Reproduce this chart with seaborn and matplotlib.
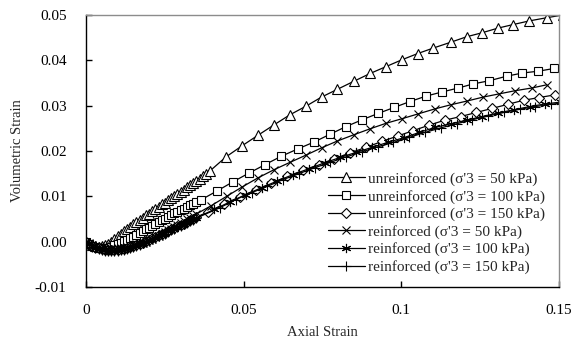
import matplotlib
matplotlib.use("Agg")
import matplotlib.pyplot as plt
import seaborn as sns
from matplotlib.lines import Line2D
from matplotlib.ticker import FixedLocator, FuncFormatter

sns.set_style("white")
plt.rcParams["font.family"] = ["Liberation Serif", "DejaVu Serif"]

# Axial strain of the closely spaced early readings (shared by all tests)
strain_early = [0.000, 0.001, 0.002, 0.003, 0.004, 0.005, 0.006, 0.007, 0.008,
                0.009, 0.010, 0.011, 0.012, 0.013, 0.014, 0.015, 0.016, 0.017,
                0.018, 0.019, 0.020, 0.021, 0.022, 0.023, 0.024, 0.025, 0.026,
                0.027, 0.028, 0.029, 0.030, 0.031, 0.032, 0.033, 0.034, 0.035]

# Unreinforced, sigma'3 = 50 kPa
u50_early = [0.0, -0.0004, -0.0008, -0.0010, -0.0011, -0.0010, -0.0008, -0.0005,
             -0.0001, 0.0005, 0.0012, 0.0017, 0.0023, 0.0028, 0.0033, 0.0038,
             0.0043, 0.0048, 0.0053, 0.0058, 0.0062, 0.0067, 0.0072, 0.0077,
             0.0082, 0.0086, 0.0091, 0.0096, 0.0101, 0.0105, 0.0110, 0.0115,
             0.0120, 0.0124, 0.0129, 0.0134]
u50_strain = [0.0360, 0.0370, 0.0380, 0.0393, 0.0444, 0.0496, 0.0546, 0.0597,
              0.0647, 0.0698, 0.0747, 0.0797, 0.0850, 0.0901, 0.0951, 0.1001,
              0.1052, 0.1101, 0.1157, 0.1207, 0.1257, 0.1306, 0.1355, 0.1406,
              0.1461, 0.1512]
u50_vol = [0.0139, 0.0144, 0.0149, 0.0156, 0.0187, 0.0212, 0.0235, 0.0258,
           0.0280, 0.0299, 0.0319, 0.0336, 0.0354, 0.0371, 0.0386, 0.0401,
           0.0415, 0.0427, 0.0440, 0.0452, 0.0461, 0.0471, 0.0479, 0.0487,
           0.0494, 0.0500]

# Unreinforced, sigma'3 = 100 kPa
u100_early = [0.0, -0.0005, -0.0009, -0.0011, -0.0013, -0.0014, -0.0014, -0.0013,
              -0.0011, -0.0008, -0.0005, -0.0002, 0.0001, 0.0004, 0.0008, 0.0011,
              0.0015, 0.0019, 0.0023, 0.0027, 0.0031, 0.0035, 0.0039, 0.0043,
              0.0047, 0.0051, 0.0055, 0.0059, 0.0063, 0.0066, 0.0070, 0.0073,
              0.0077, 0.0080, 0.0084, 0.0087]
u100_strain = [0.0364, 0.0416, 0.0466, 0.0516, 0.0568, 0.0618, 0.0673, 0.0724,
               0.0774, 0.0825, 0.0876, 0.0927, 0.0977, 0.1027, 0.1078, 0.1128,
               0.1181, 0.1228, 0.1279, 0.1334, 0.1384, 0.1434, 0.1484]
u100_vol = [0.0092, 0.0112, 0.0132, 0.0151, 0.0170, 0.0188, 0.0205, 0.0220,
            0.0237, 0.0254, 0.0269, 0.0283, 0.0296, 0.0309, 0.0321, 0.0330,
            0.0339, 0.0348, 0.0355, 0.0365, 0.0372, 0.0376, 0.0382]

# Unreinforced, sigma'3 = 150 kPa
u150_early = [0.0, -0.0005, -0.0009, -0.0012, -0.0015, -0.0017, -0.0018, -0.0019,
              -0.0019, -0.0019, -0.0018, -0.0017, -0.0016, -0.0014, -0.0012, -0.0010,
              -0.0007, -0.0005, -0.0002, 0.0001, 0.0004, 0.0007, 0.0010, 0.0014,
              0.0017, 0.0020, 0.0024, 0.0027, 0.0030, 0.0034, 0.0037, 0.0040,
              0.0044, 0.0047, 0.0050, 0.0054]
u150_strain = [0.0388, 0.0438, 0.0488, 0.0538, 0.0588, 0.0638, 0.0688, 0.0738,
               0.0788, 0.0838, 0.0888, 0.0938, 0.0988, 0.1038, 0.1088, 0.1138,
               0.1188, 0.1238, 0.1288, 0.1338, 0.1388, 0.1438, 0.1488, 0.1538]
u150_vol = [0.0066, 0.0083, 0.0099, 0.0114, 0.0129, 0.0144, 0.0157, 0.0170,
            0.0183, 0.0196, 0.0208, 0.0221, 0.0233, 0.0245, 0.0257, 0.0268,
            0.0276, 0.0285, 0.0294, 0.0303, 0.0312, 0.0318, 0.0324, 0.0329]

# Reinforced, sigma'3 = 50 kPa
r50_early = [0.0, -0.0004, -0.0008, -0.0010, -0.0012, -0.0014, -0.0015, -0.0016,
             -0.0016, -0.0016, -0.0015, -0.0014, -0.0013, -0.0012, -0.0010, -0.0008,
             -0.0006, -0.0004, -0.0002, 0.0000, 0.0003, 0.0006, 0.0010, 0.0013,
             0.0017, 0.0021, 0.0025, 0.0029, 0.0033, 0.0037, 0.0041, 0.0045,
             0.0049, 0.0053, 0.0057, 0.0061]
r50_strain = [0.0396, 0.0446, 0.0496, 0.0546, 0.0597, 0.0647, 0.0698, 0.0747,
              0.0797, 0.0850, 0.0901, 0.0951, 0.1001, 0.1054, 0.1107, 0.1157,
              0.1207, 0.1260, 0.1310, 0.1361, 0.1414, 0.1461]
r50_vol = [0.0079, 0.0100, 0.0121, 0.0141, 0.0159, 0.0175, 0.0191, 0.0207,
           0.0222, 0.0236, 0.0249, 0.0261, 0.0271, 0.0282, 0.0293, 0.0302,
           0.0310, 0.0319, 0.0326, 0.0333, 0.0339, 0.0346]

# Reinforced, sigma'3 = 100 kPa
r100_early = [0.0, -0.0005, -0.0010, -0.0013, -0.0016, -0.0018, -0.0019, -0.0020,
              -0.0020, -0.0020, -0.0019, -0.0018, -0.0017, -0.0015, -0.0013, -0.0011,
              -0.0008, -0.0006, -0.0003, 0.0000, 0.0003, 0.0006, 0.0009, 0.0013,
              0.0016, 0.0019, 0.0023, 0.0026, 0.0029, 0.0033, 0.0036, 0.0039,
              0.0043, 0.0046, 0.0049, 0.0053]
r100_strain = [0.0407, 0.0457, 0.0507, 0.0557, 0.0607, 0.0657, 0.0707, 0.0757,
               0.0807, 0.0857, 0.0907, 0.0957, 0.1007, 0.1057, 0.1107, 0.1157,
               0.1207, 0.1257, 0.1307, 0.1357, 0.1407, 0.1457, 0.1507]
r100_vol = [0.0071, 0.0088, 0.0104, 0.0119, 0.0134, 0.0148, 0.0161, 0.0174,
            0.0186, 0.0197, 0.0208, 0.0219, 0.0229, 0.0241, 0.0252, 0.0260,
            0.0268, 0.0276, 0.0284, 0.0291, 0.0298, 0.0304, 0.0308]

# Reinforced, sigma'3 = 150 kPa
r150_early = [0.0, -0.0006, -0.0011, -0.0014, -0.0017, -0.0019, -0.0020, -0.0021,
              -0.0021, -0.0021, -0.0020, -0.0019, -0.0018, -0.0016, -0.0014, -0.0012,
              -0.0009, -0.0007, -0.0004, -0.0001, 0.0002, 0.0005, 0.0008, 0.0012,
              0.0015, 0.0018, 0.0022, 0.0025, 0.0028, 0.0032, 0.0035, 0.0038,
              0.0042, 0.0045, 0.0048, 0.0052]
r150_strain = [0.0425, 0.0475, 0.0525, 0.0575, 0.0625, 0.0675, 0.0725, 0.0775,
               0.0825, 0.0875, 0.0925, 0.0975, 0.1025, 0.1075, 0.1125, 0.1175,
               0.1225, 0.1275, 0.1325, 0.1375, 0.1425, 0.1475, 0.1525]
r150_vol = [0.0075, 0.0093, 0.0108, 0.0122, 0.0137, 0.0150, 0.0163, 0.0175,
            0.0187, 0.0198, 0.0209, 0.0219, 0.0230, 0.0241, 0.0251, 0.0260,
            0.0269, 0.0277, 0.0285, 0.0292, 0.0298, 0.0303, 0.0307]

labels = ["unreinforced (σ'3 = 50 kPa)", "unreinforced (σ'3 = 100 kPa)",
          "unreinforced (σ'3 = 150 kPa)", "reinforced (σ'3 = 50 kPa)",
          "reinforced (σ'3 = 100 kPa)", "reinforced (σ'3 = 150 kPa)"]
x_ticks = [0, 0.05, 0.1, 0.15]
x_tick_labels = ["0", "0.05", "0.1", "0.15"]
y_ticks = [-0.01, 0.0, 0.01, 0.02, 0.03, 0.04, 0.05]

series = [
    (u50_early, u50_strain, u50_vol, "^", 6.5),
    (u100_early, u100_strain, u100_vol, "s", 5.8),
    (u150_early, u150_strain, u150_vol, "D", 4.6),
    (r50_early, r50_strain, r50_vol, "x", 6.2),
    (r100_early, r100_strain, r100_vol, (6, 2, 0), 6.6),
    (r150_early, r150_strain, r150_vol, "+", 6.6),
]

fig = plt.figure(figsize=(5.84, 3.38), dpi=100)
ax = fig.add_axes([86 / 584, 1 - 287 / 338, 473 / 584, 272 / 338])

handles = []
for (early, xs, ys, mk, ms), lab in zip(series, labels):
    x_all = strain_early + xs
    y_all = early + ys
    style = dict(color="black", linewidth=0.9, marker=mk, markersize=ms,
                 markerfacecolor="white", markeredgecolor="black",
                 markeredgewidth=0.8)
    sns.lineplot(x=x_all, y=y_all, ax=ax, sort=True, estimator=None,
                 legend=False, **style)
    handles.append(Line2D([], [], label=lab, **style))

ax.set_xlim(0, 0.15)
ax.set_ylim(-0.01, 0.05)
ax.xaxis.set_major_locator(FixedLocator(x_ticks))
ax.set_xticklabels(x_tick_labels)
ax.yaxis.set_major_locator(FixedLocator(y_ticks))
ax.yaxis.set_major_formatter(FuncFormatter(lambda v, p: f"{v:.2f}"))

for side in ("left", "bottom"):
    ax.spines[side].set_color("black")
    ax.spines[side].set_linewidth(1.0)
for side in ("top", "right"):
    ax.spines[side].set_color("#8c8c8c")
    ax.spines[side].set_linewidth(1.0)

ax.tick_params(axis="both", direction="in", length=4, width=1.0,
               colors="black", labelsize=11)
ax.tick_params(axis="x", pad=12, bottom=True, top=False)
ax.tick_params(axis="y", pad=14, left=True, right=False)

ax.set_xlabel("Axial Strain", fontsize=10.5, labelpad=6.5)
ax.set_ylabel("Volumetric Strain", fontsize=10.5, labelpad=8)

ax.legend(handles=handles, loc="upper left",
          bbox_to_anchor=((328 - 86) / 473, (287 - 172) / 272),
          frameon=False, fontsize=11, handlelength=2.4,
          handletextpad=0.2, labelspacing=0.24, borderpad=0,
          borderaxespad=0)

fig.savefig("out.png", dpi=100)
